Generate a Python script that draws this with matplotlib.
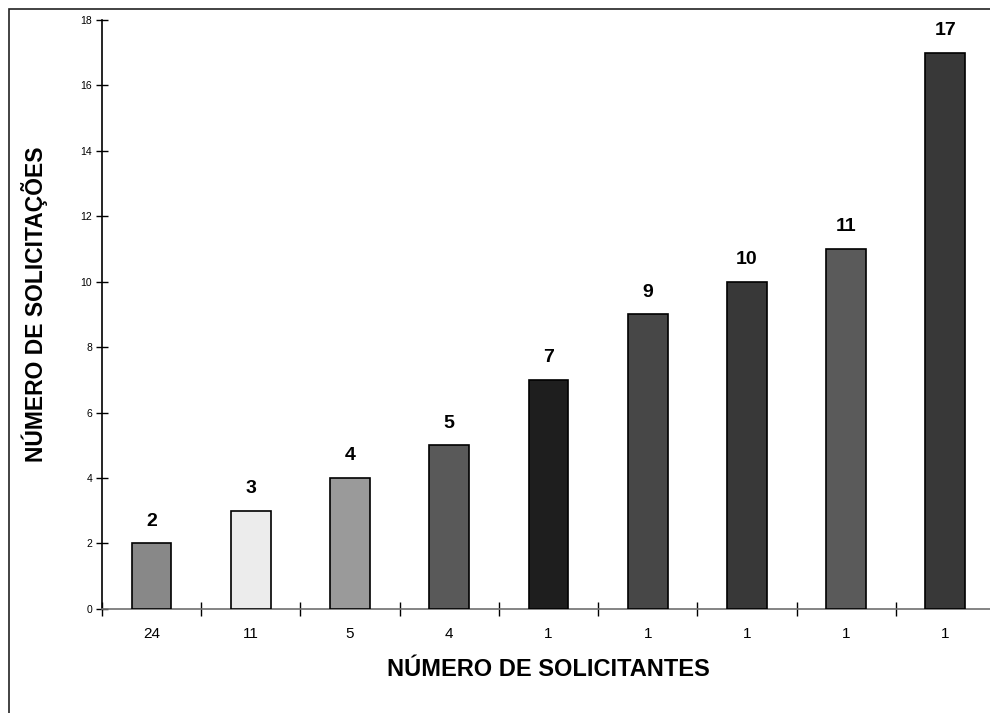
import numpy as np
import matplotlib
matplotlib.use('Agg')
import matplotlib.pyplot as plt
from matplotlib.patches import Rectangle

plt.rcParams['font.family'] = ['Liberation Sans', 'DejaVu Sans']

# number of requesters per group and the requests they made
solicitantes = ['24', '11', '5', '4', '1', '1', '1', '1', '1']
solicitacoes = [2, 3, 4, 5, 7, 9, 10, 11, 17]
bar_colors = ['#888888', '#ececec', '#9a9a9a', '#595959', '#1e1e1e',
              '#474747', '#383838', '#5a5a5a', '#383838']

fig = plt.figure(figsize=(9.9, 7.13), dpi=100)
ax = fig.add_axes([0.103, 0.146, 0.902, 0.826])

x = np.arange(len(solicitacoes))
ax.bar(x, solicitacoes, width=0.4, color=bar_colors, edgecolor='black', linewidth=1.2, zorder=3)
for xi, v in zip(x, solicitacoes):
    ax.text(xi, v + 0.42, str(v), ha='center', va='bottom', fontsize=14, fontweight='bold')

ax.set_xlim(-0.5, len(solicitacoes) - 0.5)
ax.set_ylim(0, 18)
ax.set_yticks(np.arange(0, 19, 2))
ax.tick_params(axis='y', direction='inout', length=8, width=1, labelsize=7.5, pad=3)

# category labels at centres, tick marks on the boundaries
ax.set_xticks(x)
ax.set_xticklabels(solicitantes, fontsize=11)
ax.tick_params(axis='x', which='major', length=0, pad=13)
ax.set_xticks(np.arange(-0.5, len(solicitacoes) + 0.5, 1), minor=True)
ax.tick_params(axis='x', which='minor', direction='inout', length=10, width=1)

for s in ['top', 'right']:
    ax.spines[s].set_visible(False)
ax.spines['left'].set_linewidth(1.2)
ax.spines['bottom'].set_color('#707070')
ax.spines['bottom'].set_linewidth(1.2)

ax.set_ylabel('NÚMERO DE SOLICITAÇÕES', fontsize=16.5, fontweight='bold')
ax.yaxis.set_label_coords(-0.06, 0.518)
ax.set_xlabel('NÚMERO DE SOLICITANTES', fontsize=17, fontweight='bold', labelpad=12)

# chart area border
fig.patches.append(Rectangle((9 / 990, -0.1), 1.2, 1 - 9 / 713 + 0.1, transform=fig.transFigure,
                             fill=False, edgecolor='#222222', linewidth=1.2))

fig.savefig('out.png', dpi=100)
